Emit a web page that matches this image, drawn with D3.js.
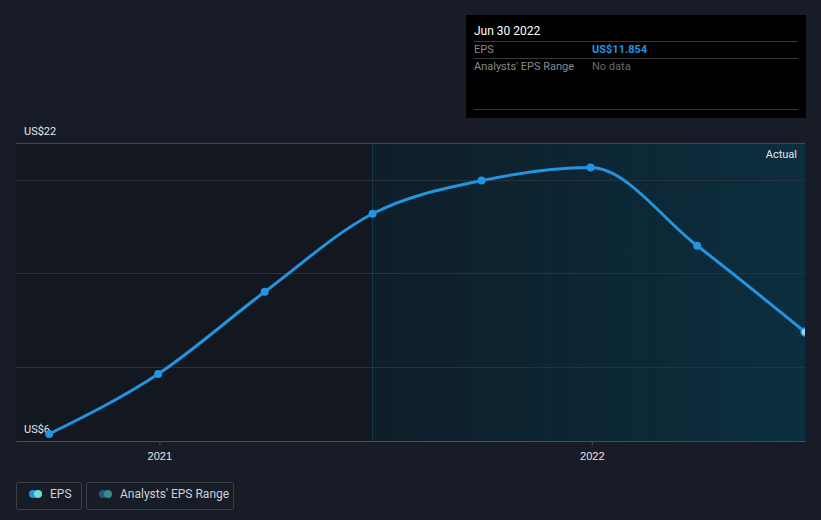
<!DOCTYPE html>
<html><head><meta charset="utf-8">
<script src="https://cdn.jsdelivr.net/npm/d3@7"></script>
<style>
html,body{margin:0;padding:0;background:#171c26;}
svg{display:block;font-family:Roboto,"Noto Sans",sans-serif;}
</style></head>
<body>
<svg id="chart" width="821" height="520"></svg>
<script>
const dates = ["2020-09-30","2020-12-31","2021-03-31","2021-06-30","2021-09-30","2021-12-31","2022-03-31","2022-06-30"];
const epsValues = [6.38, 9.6, 14.01, 18.2, 19.98, 20.68, 16.48, 11.854];
const yTickValues = [6, 22];
const yGridValues = [10, 15, 20];
const xTickLabels = ["2021","2022"];
const xTickDates = ["2021-01-01","2022-01-01"];
const forecastStart = "2021-06-30";

const parse = d3.timeParse("%Y-%m-%d");
const data = dates.map((d,i)=>({date:parse(d), v:epsValues[i]}));

const svg = d3.select("#chart");
const L=16, R=805, T=143, B=441;
const x = d3.scaleTime().domain([parse("2020-09-02"), parse("2022-06-30")]).range([L,R]);
const y = d3.scaleLinear().domain([6,22]).range([B,T]);

const defs = svg.append("defs");
const grad = defs.append("linearGradient").attr("id","fg").attr("x1","0").attr("x2","1").attr("y1","0").attr("y2","0");
grad.append("stop").attr("offset","0").attr("stop-color","#0f1e29");
grad.append("stop").attr("offset","1").attr("stop-color","#0b2e3f");
defs.append("clipPath").attr("id","clip").append("rect").attr("x",L).attr("y",0).attr("width",R-L).attr("height",B+10);

const xf = x(parse(forecastStart));
svg.append("rect").attr("x",L).attr("y",T).attr("width",xf-L).attr("height",B-T).attr("fill","#13171f");
svg.append("rect").attr("x",xf).attr("y",T).attr("width",R-xf).attr("height",B-T).attr("fill","url(#fg)");
svg.append("line").attr("x1",xf).attr("x2",xf).attr("y1",T).attr("y2",B).attr("stroke","#163a4a").attr("stroke-width",1);

// gridlines
svg.selectAll(".grid").data(yGridValues).join("line")
  .attr("x1",L).attr("x2",R).attr("y1",d=>Math.round(y(d))+0.5).attr("y2",d=>Math.round(y(d))+0.5)
  .attr("stroke","#2a313b").attr("stroke-width",1);
svg.append("line").attr("x1",L).attr("x2",R).attr("y1",T+0.5).attr("y2",T+0.5).attr("stroke","#434850").attr("stroke-width",1);

// x axis
const xAxis = d3.axisBottom(x).tickValues(xTickDates.map(parse)).tickFormat((d,i)=>xTickLabels[i]).tickSize(4).tickSizeOuter(0);
const gx = svg.append("g").attr("transform",`translate(0,${B})`).call(xAxis);
gx.select(".domain").attr("stroke","#4a4f57");
gx.selectAll(".tick line").attr("stroke","#4a4f57");
gx.selectAll(".tick text").attr("fill","#e6e6e6").attr("font-size",11).attr("dy","1.05em");

// y labels
svg.selectAll(".ylab").data(yTickValues).join("text")
  .attr("x",24).attr("y",d=>y(d)-8).attr("fill","#e6e6e6").attr("font-size",11)
  .text(d=>"US$"+d);

svg.append("text").attr("x",797).attr("y",158).attr("text-anchor","end").attr("fill","#e6e6e6").attr("font-size",11).text("Actual");

// line
const g = svg.append("g").attr("clip-path","url(#clip)");
const line = d3.line().x(d=>x(d.date)).y(d=>y(d.v)).curve(d3.curveMonotoneX);
g.append("path").datum(data).attr("d",line).attr("fill","none").attr("stroke","#2394df").attr("stroke-width",3);
g.selectAll(".pt").data(data.slice(0,-1)).join("circle")
  .attr("cx",d=>x(d.date)).attr("cy",d=>y(d.v)).attr("r",4).attr("fill","#2394df");
const last = data[data.length-1];
g.append("circle").attr("cx",x(last.date)).attr("cy",y(last.v)).attr("r",4).attr("fill","#9fd3f5").attr("stroke","#2394df").attr("stroke-width",1.5);

// tooltip
const tt = svg.append("g");
tt.append("rect").attr("x",466).attr("y",15).attr("width",340).attr("height",103).attr("fill","#000000");
tt.append("text").attr("x",474).attr("y",35).attr("fill","#ffffff").attr("font-size",12).text("Jun 30 2022");
[41,58,109].forEach(yy=>tt.append("line").attr("x1",474).attr("x2",798).attr("y1",yy+0.5).attr("y2",yy+0.5).attr("stroke","#3a3a3a"));
tt.append("text").attr("x",474).attr("y",53).attr("fill","#8a8a8a").attr("font-size",11).text("EPS");
tt.append("text").attr("x",592).attr("y",53).attr("fill","#2394df").attr("font-size",11).attr("font-weight","bold").text("US$" + last.v.toFixed(3));
tt.append("text").attr("x",474).attr("y",70).attr("fill","#8a8a8a").attr("font-size",11).text("Analysts' EPS Range");
tt.append("text").attr("x",592).attr("y",70).attr("fill","#6a6a6a").attr("font-size",11).text("No data");

// legend
const leg = [{label:"EPS", x:16, w:65, c1:"#2394df", c2:"#6de0d6"},{label:"Analysts' EPS Range", x:86, w:147, c1:"#1e5a86", c2:"#3e8a84"}];
leg.forEach(l=>{
  const lg = svg.append("g");
  lg.append("rect").attr("x",l.x+0.5).attr("y",482.5).attr("width",l.w).attr("height",27).attr("rx",2).attr("fill","none").attr("stroke","#3a3f48");
  lg.append("circle").attr("cx",l.x+17).attr("cy",494).attr("r",4).attr("fill",l.c1);
  lg.append("circle").attr("cx",l.x+22).attr("cy",494).attr("r",4).attr("fill",l.c2);
  lg.append("text").attr("x",l.x+34).attr("y",498).attr("fill","#cfd2d6").attr("font-size",12).text(l.label);
});
</script>
</body></html>
